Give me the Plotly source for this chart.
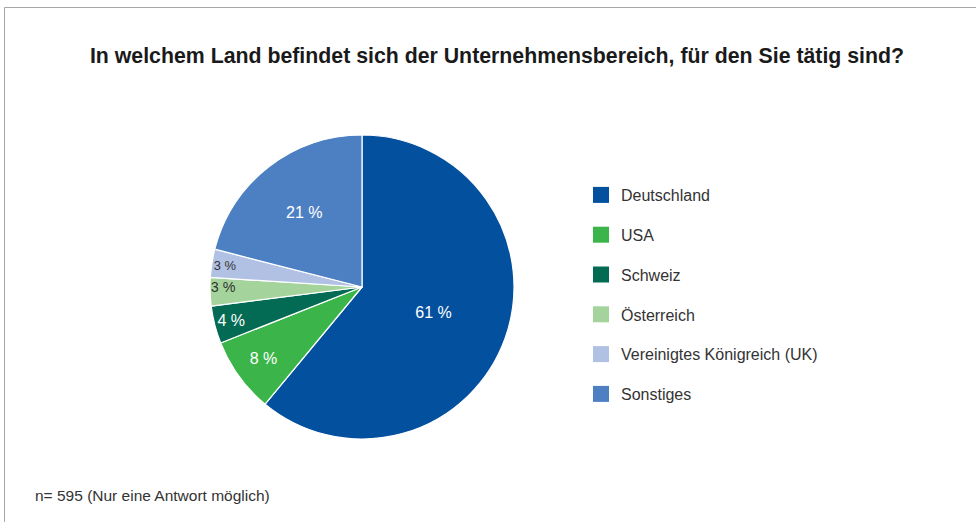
import plotly.graph_objects as go

W, H = 976, 522

countries = ['Deutschland', 'USA', 'Schweiz', 'Österreich',
             'Vereinigtes Königreich (UK)', 'Sonstiges']
shares = [61, 8, 4, 3, 3, 21]
colors = ['#02509E', '#3BB54A', '#036B53', '#A4D49B', '#B1C1E3', '#4D80C3']
label_colors = ['white', 'white', 'white', '#333333', '#333333', 'white']

title = 'In welchem Land befindet sich der Unternehmensbereich, für den Sie tätig sind?'
note = 'n= 595 (Nur eine Antwort möglich)'


def px_x(v):
    return v / W


def px_y(v):
    return 1 - v / H


fig = go.Figure()

fig.add_trace(go.Pie(
    labels=countries,
    values=shares,
    sort=False,
    direction='clockwise',
    rotation=0,
    marker=dict(colors=colors, line=dict(color='white', width=1.2)),
    texttemplate='%{value} %',
    textposition='inside',
    insidetextorientation='horizontal',
    insidetextfont=dict(color=label_colors, size=16,
                        family='Liberation Sans, Arial, sans-serif'),
    showlegend=False,
    hoverinfo='label+value',
    domain=dict(x=[px_x(210), px_x(514)], y=[px_y(439), px_y(135)]),
))

# legend entries as invisible scatter traces so the item spacing can be set
for i, (name, col) in enumerate(zip(countries, colors)):
    fig.add_trace(go.Scatter(
        x=[None], y=[None],
        mode='markers',
        name=name,
        legendgroup=f'g{i}',
        marker=dict(symbol='square', size=16, color=col, line=dict(width=0)),
    ))

fig.update_layout(
    width=W, height=H,
    margin=dict(l=0, r=0, t=0, b=0),
    paper_bgcolor='white',
    plot_bgcolor='white',
    font=dict(family='Liberation Sans, Arial, sans-serif', size=16, color='#333333'),
    title=dict(
        text=f'<b>{title}</b>',
        x=px_x(497), xanchor='center',
        y=px_y(56), yanchor='middle',
        font=dict(size=21.3, color='#1a1a1a'),
    ),
    xaxis=dict(visible=False),
    yaxis=dict(visible=False),
    legend=dict(
        x=px_x(581), xanchor='left',
        y=px_y(178), yanchor='top',
        tracegroupgap=16,
        font=dict(size=16, color='#333333'),
    ),
    shapes=[dict(
        type='rect', xref='paper', yref='paper',
        x0=px_x(4.5), x1=1.02, y0=-0.02, y1=px_y(7.5),
        line=dict(color='#A6A6A6', width=1),
    )],
    annotations=[dict(
        text=note, xref='paper', yref='paper',
        x=px_x(33), xanchor='left', y=px_y(495), yanchor='middle',
        showarrow=False, font=dict(size=15.5, color='#333333'),
    )],
)

fig.write_html('out.html', config={'displayModeBar': False},
               post_script="document.body.style.margin='0';")
